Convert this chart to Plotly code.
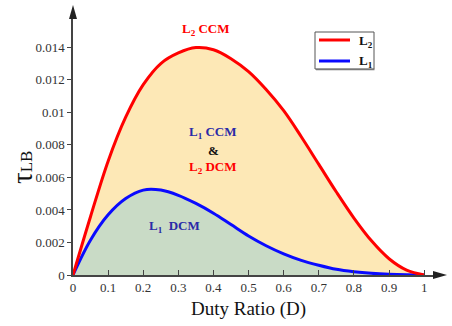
import plotly.graph_objects as go

duty = [0, 0.05, 0.1, 0.15, 0.2, 0.25, 0.3, 0.35, 0.4, 0.45, 0.5,
        0.55, 0.6, 0.65, 0.7, 0.75, 0.8, 0.85, 0.9, 0.95, 1.0]
tau_L2 = [0, 0.0036, 0.0070, 0.0097, 0.0117, 0.0130, 0.01365, 0.01398, 0.01385, 0.0133,
          0.0125, 0.0114, 0.0101, 0.0085, 0.0068, 0.0051, 0.0035, 0.0021, 0.0010,
          0.0003, 0]
tau_L1 = [0, 0.00215, 0.0037, 0.0047, 0.00522, 0.00522, 0.0049, 0.0044, 0.0038, 0.0031,
          0.0024, 0.0018, 0.0013, 0.0009, 0.0006, 0.00035, 0.0002, 0.0001, 0.00004,
          0.00001, 0]

x_ticks = [0, 0.1, 0.2, 0.3, 0.4, 0.5, 0.6, 0.7, 0.8, 0.9, 1]
x_ticktext = ["0", "0.1", "0.2", "0.3", "0.4", "0.5", "0.6", "0.7", "0.8", "0.9", "1"]
y_ticks = [0, 0.002, 0.004, 0.006, 0.008, 0.010, 0.012, 0.014]
y_ticktext = ["0", "0.002", "0.004", "0.006", "0.008", "0.01", "0.012", "0.014"]
legend_names = ["<b>L<sub>2</sub></b>", "<b>L<sub>1</sub></b>"]

RED = "#FF0000"
BLUE = "#0A0AFF"
NAVY = "#2A2AA8"
SERIF = "Liberation Serif"
AX = "#444444"

fig = go.Figure()
fig.add_trace(go.Scatter(x=duty, y=tau_L2, mode="lines", fill="tozeroy",
                         fillcolor="#FDE8B6", line=dict(width=0, shape="spline"),
                         showlegend=False, hoverinfo="skip"))
fig.add_trace(go.Scatter(x=duty, y=tau_L1, mode="lines", fill="tozeroy",
                         fillcolor="#C9DBC6", line=dict(width=0, shape="spline"),
                         showlegend=False, hoverinfo="skip"))
fig.add_trace(go.Scatter(x=duty, y=tau_L1, mode="lines", name=legend_names[1],
                         line=dict(color=BLUE, width=3, shape="spline"), showlegend=False))
fig.add_trace(go.Scatter(x=duty, y=tau_L2, mode="lines", name=legend_names[0],
                         line=dict(color=RED, width=3, shape="spline"), showlegend=False))

# plot area: x 73..434 px, y 18..275 px
fig.update_layout(
    width=452, height=326,
    margin=dict(l=73, r=18, t=18, b=51),
    paper_bgcolor="white", plot_bgcolor="white",
    font=dict(family=SERIF, size=13, color="#333333"),
    xaxis=dict(range=[0, 1.028], tickvals=x_ticks, ticktext=x_ticktext,
               showgrid=False, zeroline=False, showline=True, linecolor=AX, linewidth=1.5,
               ticks="inside", ticklen=5, tickcolor=AX, tickwidth=1,
               tickfont=dict(family=SERIF, size=13, color="#333333")),
    yaxis=dict(range=[0, 0.0158], tickvals=y_ticks, ticktext=y_ticktext,
               showgrid=False, zeroline=False, showline=True, linecolor=AX, linewidth=1.5,
               ticks="outside", ticklen=4, tickcolor=AX, tickwidth=1,
               tickfont=dict(family=SERIF, size=13, color="#333333")),
    showlegend=False,
)

px_w, px_h = 361.0, 257.0
def px_to_paper(px, py):
    return (px - 73) / px_w, (275 - py) / px_h

# axis arrowheads
tip = px_to_paper(73, 5); b1 = px_to_paper(69, 19); b2 = px_to_paper(77, 19)
fig.add_shape(type="path", xref="paper", yref="paper",
              path=f"M {tip[0]} {tip[1]} L {b1[0]} {b1[1]} L {b2[0]} {b2[1]} Z",
              fillcolor="#222222", line=dict(width=0))
tip = px_to_paper(447, 275); b1 = px_to_paper(433, 271); b2 = px_to_paper(433, 279)
fig.add_shape(type="path", xref="paper", yref="paper",
              path=f"M {tip[0]} {tip[1]} L {b1[0]} {b1[1]} L {b2[0]} {b2[1]} Z",
              fillcolor="#222222", line=dict(width=0))

# legend box
x0, y0 = px_to_paper(315, 32); x1, y1 = px_to_paper(374, 69)
fig.add_shape(type="rect", xref="paper", yref="paper", x0=x0, y0=y1, x1=x1, y1=y0,
              fillcolor="white", line=dict(color="#555555", width=1))
xs0, ys0 = px_to_paper(316, 69.6); xs1, _ = px_to_paper(374.5, 69.6)
fig.add_shape(type="line", xref="paper", yref="paper", x0=xs0, y0=ys0, x1=xs1, y1=ys0,
              line=dict(color="#777777", width=1.5))
for name, color, py in [(legend_names[0], RED, 40), (legend_names[1], BLUE, 61)]:
    lx0, ly = px_to_paper(319, py); lx1, _ = px_to_paper(350, py)
    fig.add_shape(type="line", xref="paper", yref="paper", x0=lx0, y0=ly, x1=lx1, y1=ly,
                  line=dict(color=color, width=3))
    tx, ty = px_to_paper(357, py + 1)
    fig.add_annotation(xref="paper", yref="paper", x=tx, y=ty, xanchor="left",
                       yanchor="middle", text=name, showarrow=False,
                       font=dict(family=SERIF, size=13, color="#111111"))

# axis titles
x, y = px_to_paper(248, 309)
fig.add_annotation(xref="paper", yref="paper", x=x, y=y, xanchor="center", yanchor="middle",
                   text="Duty Ratio (D)", showarrow=False,
                   font=dict(family=SERIF, size=19, color="#111111"))
x, y = px_to_paper(22, 167)
fig.add_annotation(xref="paper", yref="paper", x=x, y=y, xanchor="center", yanchor="middle",
                   text="<span style='font-size:29px'>τ</span><span style='font-size:17px'>LB</span>",
                   textangle=-90, showarrow=False, font=dict(family=SERIF, color="#111111"))

# region labels
def label(px, py, text, color):
    x, y = px_to_paper(px, py)
    fig.add_annotation(xref="paper", yref="paper", x=x, y=y, xanchor="center",
                       yanchor="middle", text=text, showarrow=False,
                       font=dict(family=SERIF, size=13, color=color))

label(206, 30, "<b>L<sub>2</sub> CCM</b>", RED)
label(213, 132, "<b>L<sub>1</sub> CCM</b>", NAVY)
label(213, 150, "<b>&</b>", "#111111")
label(213, 168, "<b>L<sub>2</sub> DCM</b>", RED)
label(174, 226, "<b>L<sub>1</sub>  DCM</b>", NAVY)

fig.write_html("out.html")
